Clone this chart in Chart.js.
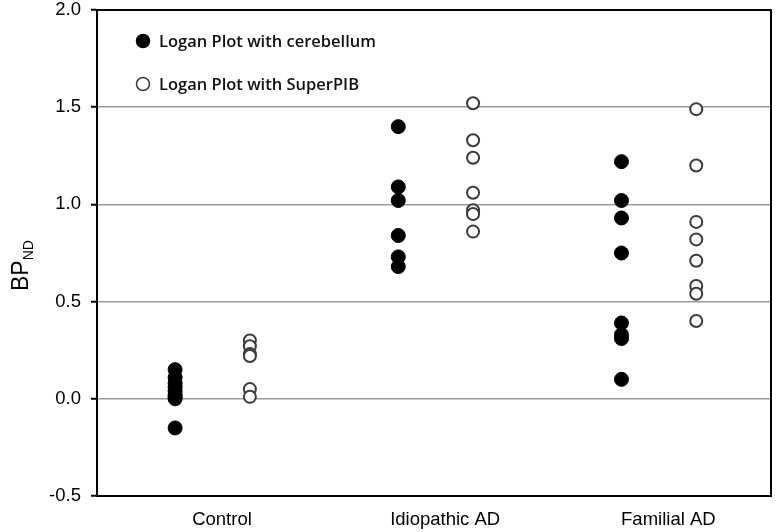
<!DOCTYPE html>
<html>
<head>
<meta charset="utf-8">
<script src="https://cdn.jsdelivr.net/npm/chart.js@4/dist/chart.umd.min.js"></script>
<style>
html,body{margin:0;padding:0;background:#fff;}
#c{display:block;}
</style>
</head>
<body>
<canvas id="c" width="779" height="532"></canvas>
<script>
// ---- data ----
const categories = ['Control', 'Idiopathic AD', 'Familial AD'];
const seriesNames = ['Logan Plot with cerebellum', 'Logan Plot with SuperPIB'];
const cerebellumValues = [
  [0.15, 0.11, 0.08, 0.06, 0.04, 0.02, 0.01, 0.00, -0.15],
  [1.40, 1.09, 1.02, 0.84, 0.73, 0.68],
  [1.22, 1.02, 0.93, 0.75, 0.39, 0.33, 0.31, 0.10]
];
const superPIBValues = [
  [0.30, 0.27, 0.23, 0.22, 0.05, 0.01],
  [1.52, 1.33, 1.24, 1.06, 0.97, 0.95, 0.86],
  [1.49, 1.20, 0.91, 0.82, 0.71, 0.58, 0.54, 0.40]
];
const yTickValues = [-0.5, 0.0, 0.5, 1.0, 1.5, 2.0];
const gridValues = [0.0, 0.5, 1.0, 1.5];

// ---- layout constants ----
const OPEN_OFFSET = 0.335;
const LABEL_OFFSET = 0.21;

function toPoints(groups, offset) {
  const pts = [];
  groups.forEach((vals, i) => vals.forEach(v => pts.push({x: i + offset, y: v})));
  return pts;
}

const borderBox = {
  id: 'borderBox',
  afterDraw(chart) {
    const {ctx, chartArea: a} = chart;
    ctx.save();
    ctx.strokeStyle = '#000';
    ctx.lineWidth = 2;
    ctx.strokeRect(a.left, a.top, a.right - a.left, a.bottom - a.top);
    ctx.restore();
  }
};

const yTitle = {
  id: 'yTitle',
  afterDraw(chart) {
    const {ctx} = chart;
    ctx.save();
    ctx.translate(28, 291);
    ctx.rotate(-Math.PI / 2);
    ctx.fillStyle = '#000';
    ctx.textBaseline = 'alphabetic';
    ctx.textAlign = 'left';
    ctx.font = '23px "Liberation Sans", Arial, sans-serif';
    ctx.fillText('BP', 0, 0);
    const w = ctx.measureText('BP').width;
    ctx.font = '14px "Liberation Sans", Arial, sans-serif';
    ctx.fillText('ND', w, 5);
    ctx.restore();
  }
};

const insideLegend = {
  id: 'insideLegend',
  afterDraw(chart) {
    const {ctx} = chart;
    ctx.save();
    chart.data.datasets.forEach((ds, i) => {
      const cx = 143, cy = 41 + i * 43;
      ctx.beginPath();
      ctx.arc(cx, cy, 6.5, 0, Math.PI * 2);
      ctx.fillStyle = ds.backgroundColor;
      ctx.fill();
      ctx.lineWidth = 1.5;
      ctx.strokeStyle = ds.borderColor;
      ctx.stroke();
      ctx.fillStyle = '#111';
      ctx.font = '600 16.5px "Open Sans", sans-serif';
      ctx.textBaseline = 'middle';
      ctx.textAlign = 'left';
      ctx.fillText(ds.label, 159, cy + 1);
    });
    ctx.restore();
  }
};

new Chart(document.getElementById('c'), {
  type: 'scatter',
  data: {
    datasets: [
      {
        label: seriesNames[0],
        data: toPoints(cerebellumValues, 0),
        backgroundColor: '#000',
        borderColor: '#000',
        borderWidth: 1,
        pointRadius: 7
      },
      {
        label: seriesNames[1],
        data: toPoints(superPIBValues, OPEN_OFFSET),
        backgroundColor: '#fff',
        borderColor: '#3a3a3a',
        borderWidth: 2,
        pointRadius: 6
      }
    ]
  },
  options: {
    responsive: false,
    animation: false,
    layout: {padding: {top: 10, right: 0, left: 0, bottom: 0}},
    plugins: {legend: {display: false}, tooltip: {enabled: false}},
    scales: {
      x: {
        type: 'linear',
        min: -0.35,
        max: 2.67,
        afterFit(s) { s.height = 36; s.paddingLeft = 0; s.paddingRight = 0; },
        afterBuildTicks(s) { s.ticks = categories.map((c, i) => ({value: i + LABEL_OFFSET})); },
        grid: {display: false, drawTicks: false},
        border: {display: true, color: '#000', width: 2},
        ticks: {
          padding: 13,
          color: '#000',
          font: {family: '"Liberation Sans", Arial, sans-serif', size: 18.5},
          callback: (v) => categories[Math.round(v - LABEL_OFFSET)]
        }
      },
      y: {
        min: -0.5,
        max: 2.0,
        afterFit(s) { s.width = 97; s.paddingTop = 0; s.paddingBottom = 0; },
        afterBuildTicks(s) { s.ticks = yTickValues.map(v => ({value: v})); },
        grid: {
          color: (c) => (c.tick && gridValues.includes(c.tick.value)) ? '#9a9a9a' : 'rgba(0,0,0,0)',
          lineWidth: 1.5,
          drawTicks: true,
          tickLength: 6,
          tickColor: '#000',
          tickWidth: 2
        },
        border: {display: true, color: '#000', width: 2},
        ticks: {
          padding: 10,
          color: '#000',
          font: {family: '"Liberation Sans", Arial, sans-serif', size: 18.5},
          callback: (v) => Number(v).toFixed(1)
        }
      }
    }
  },
  plugins: [borderBox, yTitle, insideLegend]
});
</script>
</body>
</html>
